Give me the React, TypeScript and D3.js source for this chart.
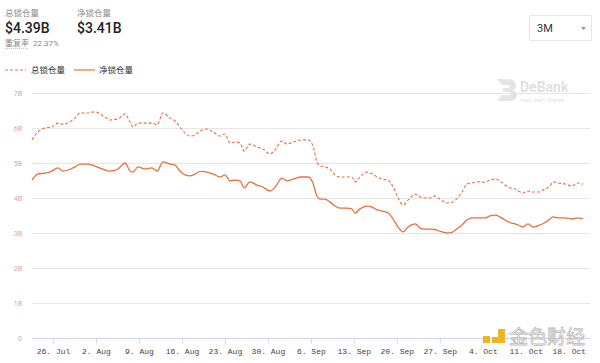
import React, { useEffect, useRef } from 'react';
import * as d3 from 'd3';

// timestamps (2021, "MM-DD HH")
const times = [
  '07-22 14', '07-23 13', '07-24 17', '07-25 20', '07-26 19', '07-27 15', '07-28 11', '07-29 14',
  '07-30 10', '07-31 13', '08-01 20', '08-03 11', '08-04 07', '08-05 14', '08-06 18', '08-07 13',
  '08-08 01', '08-08 20', '08-09 23', '08-11 03', '08-11 23', '08-12 22', '08-14 01', '08-14 21',
  '08-15 16', '08-16 12', '08-17 07', '08-18 03', '08-18 23', '08-20 02', '08-21 01', '08-22 05',
  '08-23 00', '08-23 20', '08-24 15', '08-25 11', '08-26 03', '08-27 02', '08-28 05', '08-29 05',
  '08-30 08', '08-31 04', '09-01 07', '09-02 03', '09-03 02', '09-04 13', '09-05 13', '09-06 07',
  '09-07 00', '09-07 12', '09-08 07', '09-09 02', '09-09 22', '09-10 17', '09-11 21', '09-12 16',
  '09-13 05', '09-14 00', '09-15 03', '09-15 23', '09-16 19', '09-17 14', '09-18 14', '09-19 10',
  '09-20 05', '09-21 00', '09-21 20', '09-23 00', '09-23 19', '09-24 14', '09-25 10', '09-26 05',
  '09-27 00', '09-28 04', '09-29 00', '09-29 19', '09-30 15', '10-01 10', '10-02 06', '10-03 05',
  '10-04 09', '10-05 04', '10-06 00', '10-06 19', '10-07 15', '10-08 10', '10-09 06', '10-10 02',
  '10-10 12', '10-11 09', '10-12 04', '10-13 00', '10-14 03', '10-14 23', '10-15 10', '10-16 06',
  '10-17 09', '10-18 13', '10-19 08', '10-20 08',
];

// 总锁仓量 (billions)
const totalTvl = [
  5.66, 5.89, 6.0, 6.03, 6.14, 6.11, 6.14, 6.29,
  6.43, 6.43, 6.46, 6.31, 6.23, 6.26, 6.4, 6.17,
  6.03, 6.14, 6.14, 6.14, 6.09, 6.43, 6.29, 6.2,
  6.03, 5.86, 5.77, 5.8, 5.91, 5.97, 5.89, 5.77,
  5.83, 5.57, 5.6, 5.57, 5.34, 5.54, 5.46, 5.4,
  5.26, 5.37, 5.63, 5.54, 5.6, 5.66, 5.66, 5.51,
  5.03, 4.92, 4.89, 4.83, 4.66, 4.6, 4.6, 4.6,
  4.46, 4.6, 4.74, 4.69, 4.6, 4.54, 4.51, 4.31,
  4.0, 3.8, 3.94, 4.11, 4.03, 4.0, 4.0, 4.06,
  3.97, 3.86, 3.88, 3.98, 4.17, 4.4, 4.43, 4.46,
  4.45, 4.51, 4.54, 4.49, 4.37, 4.29, 4.26, 4.17,
  4.14, 4.2, 4.17, 4.17, 4.26, 4.34, 4.46, 4.43,
  4.4, 4.34, 4.43, 4.39,
];

// 净锁仓量 (billions)
const netTvl = [
  4.51, 4.69, 4.71, 4.77, 4.86, 4.77, 4.8, 4.89,
  4.97, 4.97, 4.91, 4.8, 4.77, 4.83, 5.0, 4.77,
  4.74, 4.89, 4.83, 4.86, 4.77, 5.03, 4.97, 4.94,
  4.77, 4.66, 4.63, 4.68, 4.76, 4.74, 4.69, 4.6,
  4.66, 4.49, 4.51, 4.49, 4.29, 4.46, 4.37, 4.31,
  4.2, 4.31, 4.57, 4.49, 4.54, 4.6, 4.6, 4.45,
  4.05, 3.97, 3.97, 3.89, 3.77, 3.71, 3.71, 3.69,
  3.57, 3.69, 3.77, 3.74, 3.66, 3.63, 3.57, 3.4,
  3.17, 3.03, 3.17, 3.26, 3.14, 3.11, 3.11, 3.1,
  3.05, 3.0, 3.02, 3.12, 3.23, 3.37, 3.43, 3.43,
  3.43, 3.49, 3.51, 3.46, 3.37, 3.3, 3.26, 3.2,
  3.17, 3.26, 3.17, 3.21, 3.3, 3.4, 3.46, 3.43,
  3.43, 3.4, 3.43, 3.41,
];

const yTicks = [0, 1, 2, 3, 4, 5, 6, 7];
const yTickLabels = ['0', '1B', '2B', '3B', '4B', '5B', '6B', '7B'];
const xTickDates = [
  '07-26', '08-02', '08-09', '08-16', '08-23', '08-30', '09-06',
  '09-13', '09-20', '09-27', '10-04', '10-11', '10-18',
];
const domainStart = '07-22 14';
const domainEnd = '10-21 11';

const parseTime = d3.timeParse('%Y-%m-%d %H');
const parseDay = d3.timeParse('%Y-%m-%d');

const W = 600;
const H = 363;
const lineColor = '#e6713f';

export default function App() {
  const svgRef = useRef<SVGSVGElement>(null);

  useEffect(() => {
    if (!svgRef.current) return;
    const svg = d3.select(svgRef.current);
    svg.selectAll('*').remove();

    const left = 32;
    const right = 590;
    const top = 93;
    const bottom = 338;

    const x = d3.scaleTime()
      .domain([parseTime('2021-' + domainStart)!, parseTime('2021-' + domainEnd)!])
      .range([left, right]);
    const y = d3.scaleLinear().domain([0, 7]).range([bottom, top]);

    const dates = times.map(t => parseTime('2021-' + t)!);

    // header
    const hdr = svg.append('g').attr('font-family', '"Noto Sans CJK SC", "Noto Sans", sans-serif');
    hdr.append('text').attr('x', 5).attr('y', 16).attr('font-size', 8.5).attr('fill', '#8a8a8a').text('总锁仓量');
    hdr.append('text').attr('x', 5).attr('y', 33).attr('font-size', 14).attr('font-weight', 500)
      .attr('fill', '#222').attr('font-family', 'Roboto, sans-serif').text('$4.39B');
    hdr.append('text').attr('x', 77).attr('y', 16).attr('font-size', 8.5).attr('fill', '#8a8a8a').text('净锁仓量');
    hdr.append('text').attr('x', 77).attr('y', 33).attr('font-size', 14).attr('font-weight', 500)
      .attr('fill', '#222').attr('font-family', 'Roboto, sans-serif').text('$3.41B');
    hdr.append('text').attr('x', 5).attr('y', 46).attr('font-size', 8).attr('fill', '#8a8a8a').text('重复率');
    hdr.append('line').attr('x1', 5).attr('x2', 29).attr('y1', 48.5).attr('y2', 48.5)
      .attr('stroke', '#aaa').attr('stroke-width', 0.7).attr('stroke-dasharray', '1,1');
    hdr.append('text').attr('x', 33).attr('y', 46).attr('font-size', 8).attr('fill', '#8a8a8a')
      .attr('font-family', 'Roboto, sans-serif').text('22.37%');

    // dropdown
    svg.append('rect').attr('x', 529.5).attr('y', 15.5).attr('width', 62).attr('height', 25)
      .attr('fill', '#fff').attr('stroke', '#e6e6e6').attr('rx', 1);
    svg.append('text').attr('x', 537).attr('y', 32).attr('font-size', 11).attr('fill', '#333')
      .attr('font-family', 'Roboto, sans-serif').text('3M');
    svg.append('path').attr('d', 'M581,27 L586,27 L583.5,30 Z').attr('fill', '#999');

    // legend
    const lg = svg.append('g').attr('font-family', '"Noto Sans CJK SC", sans-serif');
    lg.append('line').attr('x1', 5).attr('x2', 26).attr('y1', 70).attr('y2', 70)
      .attr('stroke', lineColor).attr('stroke-width', 1.2).attr('stroke-dasharray', '3,2');
    lg.append('text').attr('x', 31).attr('y', 73).attr('font-size', 8.5).attr('fill', '#333').text('总锁仓量');
    lg.append('line').attr('x1', 74).attr('x2', 95).attr('y1', 70).attr('y2', 70)
      .attr('stroke', lineColor).attr('stroke-width', 1.2);
    lg.append('text').attr('x', 99).attr('y', 73).attr('font-size', 8.5).attr('fill', '#333').text('净锁仓量');

    // DeBank watermark
    const wm = svg.append('g').attr('opacity', 0.22);
    wm.append('path').attr('d', 'M497,79 L508,79 Q516,79 516,86 Q516,89 512,90 Q517,91 517,95 Q517,101 508,101 L497,101 L502,95 L508,95 Q511,95 511,93 Q511,92 508,92 L503,92 L503,88 L508,88 Q510,88 510,86 Q510,85 508,85 L502,85 Z')
      .attr('fill', '#888');
    wm.append('text').attr('x', 520).attr('y', 92).attr('font-size', 14).attr('font-weight', 700)
      .attr('fill', '#777').attr('font-family', 'Roboto, sans-serif').text('DeBank');
    wm.append('text').attr('x', 520).attr('y', 101.5).attr('font-size', 6)
      .attr('fill', '#777').attr('font-family', 'Roboto, sans-serif').text('Your DeFi Wallet');

    // grid
    svg.append('g')
      .selectAll('line')
      .data(yTicks.filter(t => t > 0))
      .enter()
      .append('line')
      .attr('x1', left).attr('x2', right)
      .attr('y1', d => Math.round(y(d)) + 0.5).attr('y2', d => Math.round(y(d)) + 0.5)
      .attr('stroke', '#e6e6e6');

    // y labels
    svg.append('g')
      .selectAll('text')
      .data(yTicks)
      .enter()
      .append('text')
      .attr('x', 22).attr('y', d => y(d) + 2.5)
      .attr('text-anchor', 'end')
      .attr('font-size', 7)
      .attr('font-family', 'Roboto, sans-serif')
      .attr('fill', '#dba79c')
      .text((d, i) => yTickLabels[i]);

    // x axis
    const xTicks = xTickDates.map(d => parseDay('2021-' + d)!);
    const xAxis = d3.axisBottom(x)
      .tickValues(xTicks)
      .tickSize(5)
      .tickFormat(d => d3.timeFormat('%-d. %b')(d as Date));
    const ax = svg.append('g').attr('transform', `translate(0,${bottom + 0.5})`).call(xAxis);
    ax.select('.domain').attr('stroke', '#ccd6eb').attr('d', `M${left},0H${right}`);
    ax.selectAll('.tick line').attr('stroke', '#ccd6eb');
    ax.selectAll('.tick text')
      .attr('font-family', '"Liberation Mono", monospace')
      .attr('font-size', 8)
      .attr('fill', '#444')
      .attr('dy', '0.9em');

    // lines
    const lineGen = (vals: number[]) =>
      d3.line<number>()
        .x((_, i) => x(dates[i]))
        .y(v => y(v))
        .curve(d3.curveMonotoneX)(vals);

    svg.append('path')
      .attr('d', lineGen(totalTvl)!)
      .attr('fill', 'none')
      .attr('stroke', lineColor)
      .attr('stroke-width', 1.1)
      .attr('stroke-dasharray', '3,2');

    svg.append('path')
      .attr('d', lineGen(netTvl)!)
      .attr('fill', 'none')
      .attr('stroke', lineColor)
      .attr('stroke-width', 1.3);

    // 金色财经 watermark
    const jw = svg.append('g');
    jw.append('rect').attr('x', 483).attr('y', 336).attr('width', 7).attr('height', 7).attr('fill', '#f0b323');
    jw.append('path').attr('d', 'M498,329 L505,329 L505,343 L492,343 L492,337 L498,337 Z').attr('fill', '#f0b323');
    jw.append('text').attr('x', 509).attr('y', 344).attr('font-size', 19)
      .attr('font-family', '"Noto Sans CJK SC", sans-serif')
      .attr('fill', '#fff').attr('fill-opacity', 0.6).attr('stroke', '#bdbdbd').attr('stroke-width', 0.8)
      .text('金色财经');
  }, []);

  return (
    <svg
      ref={svgRef}
      width={W}
      height={H}
      style={{ position: 'absolute', left: 0, top: 0, background: '#fff' }}
    />
  );
}
